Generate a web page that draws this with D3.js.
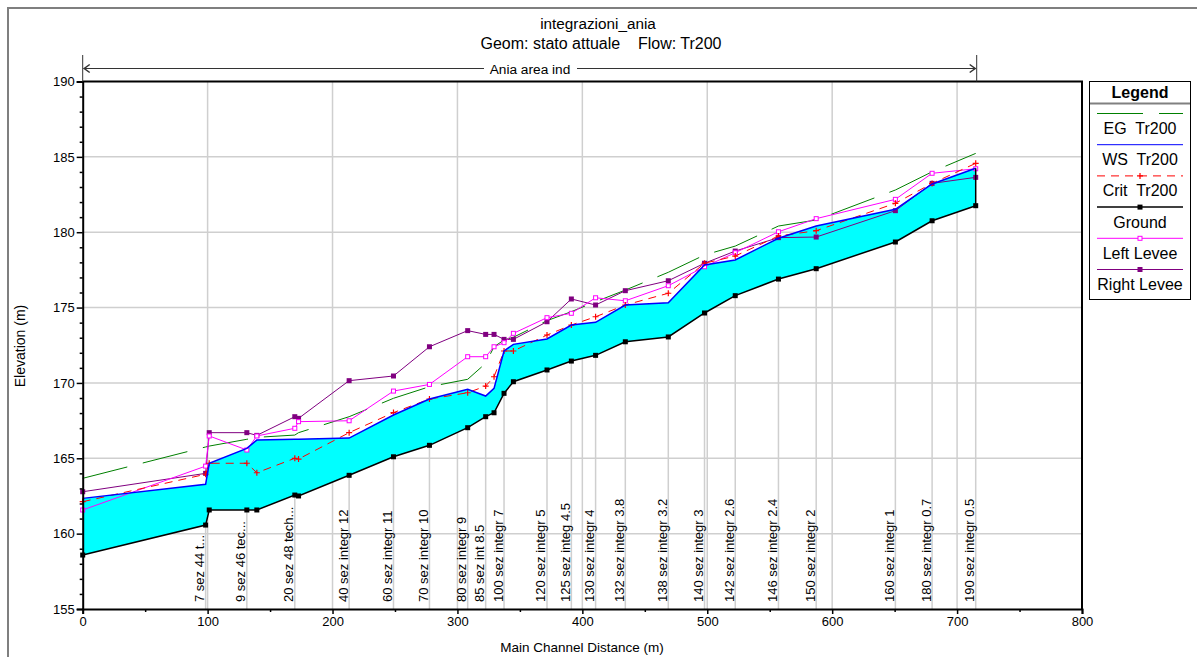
<!DOCTYPE html>
<html>
<head>
<meta charset="utf-8">
<script src="https://cdn.jsdelivr.net/npm/d3@7/dist/d3.min.js"></script>
<style>
  body { margin: 0; background: #fff; }
  svg { font-family: "Liberation Sans", Arial, sans-serif; }
</style>
</head>
<body>
<div id="chart"></div>
<script>
// ---------------- data ----------------
const dist = [0, 98.4, 101.3, 131.4, 139.4, 169.8, 172.8, 213.3, 248.8, 277.6, 308.2, 322.6, 329.3, 337.3, 344.8,
  371.7, 391.2, 410.6, 434.4, 468.8, 497.8, 522.4, 557, 587.2, 650.6, 680, 714.9];
const stationLabels = [null, "7 sez 44 t...", null, "9 sez 46 tec...", null, "20 sez 48 tech...", null,
  "40 sez integr 12", "60 sez integr 11", "70 sez integr 10", "80 sez integr 9", "85 sez int 8.5", null,
  "100 sez integr 7", null, "120 sez integr 5", "125 sez integ 4.5", "130 sez integr 4", "132 sez integr 3.8",
  "138 sez integr 3.2", "140 sez integr 3", "142 sez integr 2.6", "146 sez integr 2.4", "150 sez integr 2",
  "160 sez integr 1", "180 sez integr 0.7", "190 sez integr 0.5"];
const ground = [158.58, 160.57, 161.57, 161.57, 161.57, 162.56, 162.5, 163.87, 165.1, 165.86, 167.03, 167.76, 168.02,
  169.31, 170.08, 170.86, 171.45, 171.83, 172.73, 173.05, 174.64, 175.79, 176.89, 177.58, 179.35, 180.76, 181.76];
const wsTr200 = [162.34, 163.27, 164.67, 165.66, 166.21, 166.26, 166.26, 166.34, 167.87, 168.93, 169.58, 169.13, 169.64,
  172.12, 172.56, 172.92, 173.84, 174.02, 175.17, 175.32, 177.82, 178.16, 179.6, 180.41, 181.52, 183.2, 184.24];
const critTr200 = [162.12, 163.94, 164.67, 164.67, 164.04, 165.0, 164.95, 166.7, 168.03, 168.93, 169.35, 169.79, 170.41,
  172.12, 172.12, 173.18, 173.84, 174.39, 175.17, 175.95, 177.94, 178.42, 179.75, 180.1, 181.92, 183.24, 184.57];
const egTr200 = [163.67, 165.75, 165.81, 166.26, 166.39, 166.54, 166.7, 167.76, 168.98, 169.75, 170.24, 171.3, 172.4,
  172.85, 173.03, 174.13, 174.73, 175.39, 176.16, 177.34, 178.49, 179.08, 180.41, 180.81, 182.8, 184.01, 185.23];
const leftLevee = [161.57, 164.48, 166.48, 165.55, 166.48, 166.99, 167.43, 167.49, 169.46, 169.9, 171.74, 171.74, 172.4,
  172.67, 173.29, 174.33, 174.62, 175.65, 175.45, 176.45, 177.71, 178.64, 180.03, 180.9, 182.18, 183.91, 184.21];
const rightLevee = [162.78, 164.0, 166.7, 166.7, 166.52, 167.76, 167.65, 170.15, 170.46, 172.4, 173.47, 173.22, 173.22,
  172.89, 172.89, 174.06, 175.57, 175.17, 176.12, 176.78, 177.94, 178.75, 179.64, 179.68, 181.43, 183.24, 183.64];

const xTicks = [0, 100, 200, 300, 400, 500, 600, 700, 800];
const yTicks = [155, 160, 165, 170, 175, 180, 185, 190];
const legendItems = ["EG  Tr200", "WS  Tr200", "Crit  Tr200", "Ground", "Left Levee", "Right Levee"];

// ---------------- layout ----------------
const width = 1197, height = 657;
const plot = { left: 82.7, right: 1082, top: 81.5, bottom: 609 };

const svg = d3.select("#chart").append("svg")
  .attr("width", width).attr("height", height);

const x = d3.scaleLinear().domain([0, 800]).range([plot.left, plot.right]);
const y = d3.scaleLinear().domain([155, 190]).range([plot.bottom, plot.top]);

// outer frame
svg.append("rect").attr("x", 8).attr("y", 8).attr("width", 1200).attr("height", 670)
  .attr("fill", "none").attr("stroke", "#7f7f7f").attr("stroke-width", 2);

// ---------------- grid ----------------
const grid = svg.append("g").attr("stroke", "#cfcfcf").attr("stroke-width", 1.5);
grid.selectAll("line.gx").data(xTicks.slice(1, -1)).join("line")
  .attr("x1", d => x(d)).attr("x2", d => x(d))
  .attr("y1", plot.top).attr("y2", plot.bottom);
grid.selectAll("line.gy").data(yTicks.slice(1, -1)).join("line")
  .attr("x1", plot.left).attr("x2", plot.right)
  .attr("y1", d => y(d)).attr("y2", d => y(d));

// station lines from axis up to the ground
const stations = dist.map((d, i) => ({ d, label: stationLabels[i], z: ground[i] })).filter(s => s.label);
grid.selectAll("line.st").data(stations).join("line")
  .attr("x1", s => x(s.d)).attr("x2", s => x(s.d))
  .attr("y1", plot.bottom).attr("y2", s => y(s.z));

svg.append("g").selectAll("text").data(stations).join("text")
  .attr("transform", s => `translate(${x(s.d) - 1.5},602) rotate(-90)`)
  .attr("font-size", 13).attr("fill", "#000")
  .text(s => s.label);

// ---------------- water fill ----------------
const idx = d3.range(dist.length);
svg.append("path")
  .datum(idx)
  .attr("fill", "#00ffff")
  .attr("d", d3.area().x(i => x(dist[i])).y0(i => y(ground[i])).y1(i => y(wsTr200[i])));

const line = vals => d3.line().x(i => x(dist[i])).y(i => y(vals[i]))(idx);

// energy grade
svg.append("path").attr("d", line(egTr200))
  .attr("fill", "none").attr("stroke", "#008000").attr("stroke-width", 1)
  .attr("stroke-dasharray", "46,16");

// right levee
svg.append("path").attr("d", line(rightLevee))
  .attr("fill", "none").attr("stroke", "#800080").attr("stroke-width", 1);
svg.append("g").selectAll("rect").data(idx).join("rect")
  .attr("x", i => x(dist[i]) - 2.5).attr("y", i => y(rightLevee[i]) - 2.5)
  .attr("width", 5).attr("height", 5).attr("fill", "#800080");

// left levee
svg.append("path").attr("d", line(leftLevee))
  .attr("fill", "none").attr("stroke", "#ff00ff").attr("stroke-width", 1);
svg.append("g").selectAll("rect").data(idx).join("rect")
  .attr("x", i => x(dist[i]) - 2).attr("y", i => y(leftLevee[i]) - 2)
  .attr("width", 4).attr("height", 4).attr("fill", "#fff")
  .attr("stroke", "#ff00ff").attr("stroke-width", 1);

// critical depth
svg.append("path").attr("d", line(critTr200))
  .attr("fill", "none").attr("stroke", "#ff0000").attr("stroke-width", 1)
  .attr("stroke-dasharray", "8,6");
svg.append("g").attr("stroke", "#ff0000").attr("stroke-width", 1.2)
  .selectAll("path").data(idx).join("path")
  .attr("d", i => {
    const px = x(dist[i]), py = y(critTr200[i]);
    return `M${px - 3},${py}H${px + 3}M${px},${py - 3}V${py + 3}`;
  });

// water surface
svg.append("path").attr("d", line(wsTr200))
  .attr("fill", "none").attr("stroke", "#0000ff").attr("stroke-width", 1.5);

// ground with end wall
const last = dist.length - 1;
svg.append("path").attr("d", line(ground))
  .attr("fill", "none").attr("stroke", "#000").attr("stroke-width", 1.5);
svg.append("line")
  .attr("x1", x(dist[last])).attr("x2", x(dist[last]))
  .attr("y1", y(ground[last])).attr("y2", y(wsTr200[last]))
  .attr("stroke", "#000").attr("stroke-width", 1.5);
svg.append("g").selectAll("rect").data(idx).join("rect")
  .attr("x", i => x(dist[i]) - 2.5).attr("y", i => y(ground[i]) - 2.5)
  .attr("width", 5).attr("height", 5).attr("fill", "#000");

// ---------------- axes ----------------
const xAxis = svg.append("g").attr("transform", `translate(0,${plot.bottom})`)
  .call(d3.axisBottom(x).tickValues(xTicks).tickSize(5).tickPadding(3));
svg.append("g").attr("transform", `translate(0,${plot.bottom})`)
  .call(d3.axisBottom(x).tickValues(d3.range(50, 800, 100)).tickSize(3).tickFormat(""))
  .select(".domain").remove();
const yAxis = svg.append("g").attr("transform", `translate(${plot.left},0)`)
  .call(d3.axisLeft(y).tickValues(yTicks).tickSize(6).tickPadding(2));
svg.append("g").attr("transform", `translate(${plot.left},0)`)
  .call(d3.axisLeft(y).tickValues(d3.range(156, 190).filter(v => v % 5)).tickSize(3).tickFormat(""))
  .select(".domain").remove();

svg.selectAll(".tick text").attr("font-size", 13).attr("font-family", "Liberation Sans, Arial, sans-serif");
xAxis.select(".domain").attr("stroke-width", 2);
yAxis.select(".domain").attr("stroke-width", 2);
svg.selectAll(".tick line").attr("stroke-width", 1.5);

// top and right frame of plot
svg.append("path")
  .attr("d", `M${plot.left},${plot.top}H${plot.right}V${plot.bottom}`)
  .attr("fill", "none").attr("stroke", "#000").attr("stroke-width", 2);

// axis titles
svg.append("text").attr("x", 582).attr("y", 652).attr("text-anchor", "middle")
  .attr("font-size", 13.5).text("Main Channel Distance (m)");
svg.append("text").attr("transform", "translate(25,346) rotate(-90)").attr("text-anchor", "middle")
  .attr("font-size", 14).text("Elevation (m)");

// title
svg.append("text").attr("x", 598).attr("y", 29).attr("text-anchor", "middle")
  .attr("font-size", 15.3).text("integrazioni_ania");
svg.append("text").attr("x", 601).attr("y", 49).attr("text-anchor", "middle")
  .attr("font-size", 16).attr("xml:space", "preserve").style("white-space", "pre")
  .text("Geom: stato attuale    Flow: Tr200");

// reach annotation
const annX0 = x(0), annX1 = x(714.9) + 1, annY = 68.5;
const ann = svg.append("g").attr("stroke", "#333").attr("fill", "none").attr("stroke-width", 1);
ann.append("line").attr("x1", annX0).attr("x2", annX0).attr("y1", 55).attr("y2", plot.top);
ann.append("line").attr("x1", annX1).attr("x2", annX1).attr("y1", 55).attr("y2", plot.top);
ann.append("line").attr("x1", annX0 + 1).attr("x2", 484).attr("y1", annY).attr("y2", annY);
ann.append("line").attr("x1", 577).attr("x2", annX1 - 1).attr("y1", annY).attr("y2", annY);
ann.append("path").attr("d", `M${annX0 + 7},${annY - 4}L${annX0 + 1.5},${annY}L${annX0 + 7},${annY + 4}`)
  .attr("stroke-width", 1.5);
ann.append("path").attr("d", `M${annX1 - 7},${annY - 4}L${annX1 - 1.5},${annY}L${annX1 - 7},${annY + 4}`)
  .attr("stroke-width", 1.5);
svg.append("text").attr("x", 530).attr("y", 73.5).attr("text-anchor", "middle")
  .attr("font-size", 13.7).text("Ania area ind");

// ---------------- legend ----------------
const lg = svg.append("g");
lg.append("rect").attr("x", 1089.5).attr("y", 81.5).attr("width", 101).attr("height", 218)
  .attr("fill", "#fff").attr("stroke", "#000").attr("stroke-width", 1);
lg.append("text").attr("x", 1140).attr("y", 98).attr("text-anchor", "middle")
  .attr("font-size", 16).attr("font-weight", "bold").text("Legend");
lg.append("line").attr("x1", 1090).attr("x2", 1190).attr("y1", 103.5).attr("y2", 103.5)
  .attr("stroke", "#808080").attr("stroke-width", 2);

const legendStyle = [
  { stroke: "#008000", dash: "46,16", marker: null },
  { stroke: "#0000ff", dash: null, marker: null },
  { stroke: "#ff0000", dash: "8,6", marker: "plus" },
  { stroke: "#000", dash: null, marker: "fill", color: "#000" },
  { stroke: "#ff00ff", dash: null, marker: "hollow", color: "#ff00ff" },
  { stroke: "#800080", dash: null, marker: "fill", color: "#800080" }
];
legendItems.forEach((name, i) => {
  const ly = 113.5 + i * 31.2;
  const st = legendStyle[i];
  lg.append("line").attr("x1", 1097).attr("x2", 1183).attr("y1", ly).attr("y2", ly)
    .attr("stroke", st.stroke).attr("stroke-width", i === 3 ? 1.5 : 1)
    .attr("stroke-dasharray", st.dash);
  if (st.marker === "plus") {
    lg.append("path").attr("d", `M1137,${ly}H1143M1140,${ly - 3}V${ly + 3}`)
      .attr("stroke", "#ff0000").attr("stroke-width", 1.2);
  } else if (st.marker === "fill") {
    lg.append("rect").attr("x", 1137.5).attr("y", ly - 2.5).attr("width", 5).attr("height", 5).attr("fill", st.color);
  } else if (st.marker === "hollow") {
    lg.append("rect").attr("x", 1138).attr("y", ly - 2).attr("width", 4).attr("height", 4)
      .attr("fill", "#fff").attr("stroke", st.color);
  }
  lg.append("text").attr("x", 1140).attr("y", ly + 20.5).attr("text-anchor", "middle")
    .attr("font-size", 16).attr("xml:space", "preserve").style("white-space", "pre")
    .text(name);
});
</script>
</body>
</html>
